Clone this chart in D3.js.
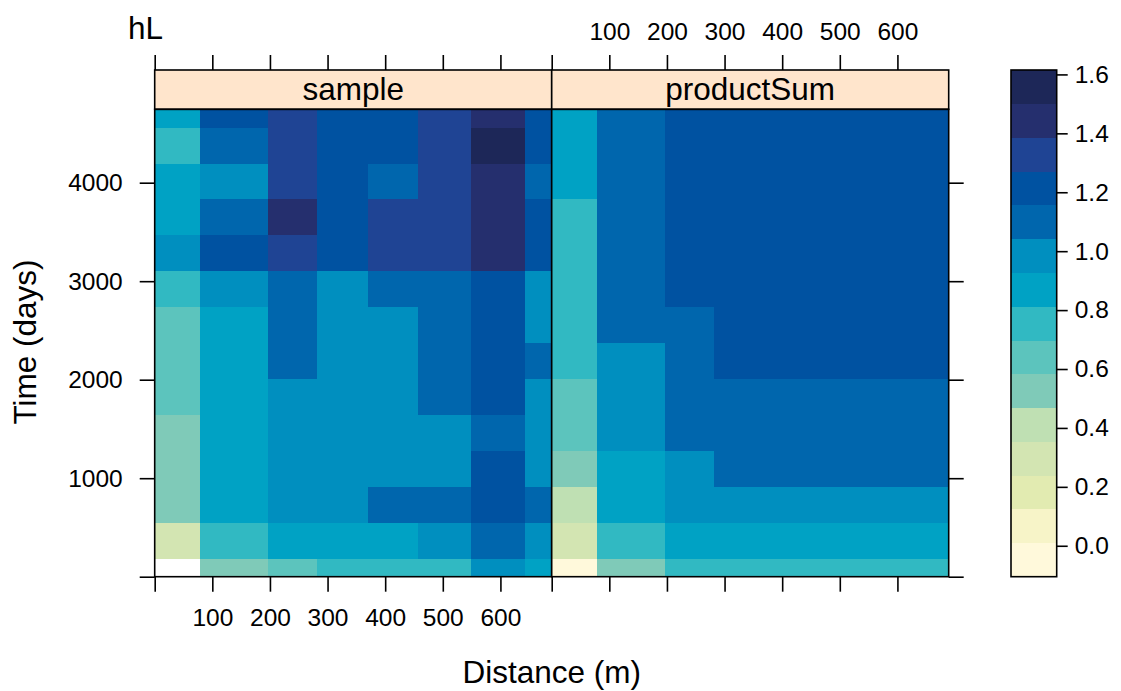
<!DOCTYPE html>
<html>
<head>
<meta charset="utf-8">
<script src="https://cdn.jsdelivr.net/npm/d3@7"></script>
<style>
  html, body { margin: 0; padding: 0; background: #ffffff; }
  svg { display: block; font-family: "Liberation Sans", Arial, sans-serif; }
</style>
</head>
<body>
<svg id="chart" width="1121" height="691"></svg>
<script>
// Distance (m) of each column centre and time (days) of each row centre
const distance = [0, 157, 236, 329, 411, 503, 595, 689];
const time = [0, 365, 730, 1095, 1460, 1825, 2190, 2555, 2920, 3285, 3650, 4015, 4380, 4745];

const panelNames = ["sample", "productSum"];

// hL per row (time, bottom to top) and column (distance); null = missing
const sampleValues = [
  [null, 0.52, 0.63, 0.75, 0.77, 0.74, 0.99, 0.88],
  [0.31, 0.77, 0.86, 0.88, 0.87, 0.96, 1.09, 0.97],
  [0.51, 0.86, 0.97, 0.99, 1.08, 1.11, 1.22, 1.10],
  [0.53, 0.88, 0.98, 0.96, 0.99, 1.00, 1.20, 0.97],
  [0.55, 0.89, 0.97, 0.98, 0.99, 0.98, 1.12, 0.99],
  [0.62, 0.87, 0.96, 0.98, 1.00, 1.09, 1.23, 0.97],
  [0.63, 0.88, 1.08, 0.99, 1.01, 1.10, 1.21, 1.07],
  [0.64, 0.90, 1.11, 0.98, 1.02, 1.12, 1.22, 0.99],
  [0.78, 1.00, 1.10, 0.99, 1.09, 1.11, 1.24, 1.01],
  [0.96, 1.23, 1.32, 1.21, 1.35, 1.33, 1.46, 1.22],
  [0.88, 1.12, 1.45, 1.22, 1.34, 1.36, 1.47, 1.24],
  [0.86, 0.99, 1.31, 1.20, 1.11, 1.33, 1.45, 1.13],
  [0.79, 1.10, 1.34, 1.22, 1.23, 1.32, 1.615, 1.21],
  [0.85, 1.19, 1.30, 1.21, 1.20, 1.35, 1.42, 1.19]
];

const productSumValues = [
  [-0.105, 0.55, 0.74, 0.76, 0.77, 0.77, 0.78, 0.78],
  [0.28, 0.73, 0.85, 0.88, 0.89, 0.90, 0.90, 0.91],
  [0.43, 0.84, 0.95, 0.99, 1.00, 1.01, 1.01, 1.02],
  [0.50, 0.90, 1.02, 1.07, 1.09, 1.10, 1.10, 1.11],
  [0.60, 0.94, 1.06, 1.10, 1.12, 1.13, 1.13, 1.14],
  [0.65, 0.97, 1.09, 1.13, 1.14, 1.14, 1.14, 1.14],
  [0.71, 1.01, 1.12, 1.17, 1.18, 1.19, 1.19, 1.20],
  [0.72, 1.06, 1.15, 1.19, 1.21, 1.22, 1.22, 1.23],
  [0.74, 1.08, 1.17, 1.21, 1.23, 1.24, 1.24, 1.25],
  [0.76, 1.10, 1.19, 1.23, 1.24, 1.25, 1.25, 1.26],
  [0.79, 1.12, 1.21, 1.24, 1.25, 1.26, 1.26, 1.26],
  [0.83, 1.13, 1.22, 1.25, 1.26, 1.26, 1.26, 1.26],
  [0.84, 1.13, 1.23, 1.25, 1.26, 1.26, 1.26, 1.26],
  [0.85, 1.14, 1.23, 1.25, 1.26, 1.26, 1.26, 1.26]
];

const xTicks = [0, 100, 200, 300, 400, 500, 600];
const yTicks = [0, 1000, 2000, 3000, 4000];
const keyTicks = [0.0, 0.2, 0.4, 0.6, 0.8, 1.0, 1.2, 1.4, 1.6];

// 15 colour levels, light to dark
const palette = ["#fff9db", "#f7f4c8", "#e2ebb1", "#d3e5b2", "#bfe0b3",
                 "#7fcab8", "#5cc4bd", "#31b9c2", "#00a2c4", "#008fbf",
                 "#0066ad", "#0052a1", "#1f4494", "#252f6e", "#1d2758"];

// ---- layout ----
const panelX = [154.7, 551.7];
const panelW = 397;
const plotTop = 109.3, plotBottom = 576.7, stripTop = 70;
const keyX = 1011, keyW = 45.7;
const FONT_TICK = 24.5, FONT_LAB = 31.5;

const svg = d3.select("#chart");

const x = d3.scaleLinear().domain([distance[0], distance[distance.length - 1]]).range([0, panelW]);
const y = d3.scaleLinear().domain([time[0], time[time.length - 1]]).range([plotBottom, plotTop]);

const allValues = sampleValues.concat(productSumValues).flat().filter(v => v != null);
const zExtent = d3.extent(allValues);
const color = d3.scaleQuantize().domain(zExtent).range(palette);
const zY = d3.scaleLinear().domain(zExtent).range([plotBottom, stripTop]);

// cell edges halfway between neighbouring centres, clipped to the data range
function edges(c) {
  const e = [c[0]];
  for (let i = 1; i < c.length; i++) e.push((c[i - 1] + c[i]) / 2);
  e.push(c[c.length - 1]);
  return e;
}
const xEdges = edges(distance);
const tEdges = edges(time);

const panelData = [sampleValues, productSumValues];

panelNames.forEach((name, p) => {
  const g = svg.append("g").attr("transform", `translate(${panelX[p]},0)`);
  const cells = [];
  panelData[p].forEach((row, i) => row.forEach((v, j) => {
    if (v != null) cells.push({ i, j, v });
  }));
  g.selectAll("rect.cell").data(cells).join("rect")
    .attr("class", "cell")
    .attr("x", d => x(xEdges[d.j]))
    .attr("width", d => x(xEdges[d.j + 1]) - x(xEdges[d.j]) + 0.3)
    .attr("y", d => y(tEdges[d.i + 1]))
    .attr("height", d => y(tEdges[d.i]) - y(tEdges[d.i + 1]) + 0.3)
    .attr("fill", d => color(d.v))
    .attr("shape-rendering", "crispEdges");

  // strip
  g.append("rect")
    .attr("x", 0).attr("y", stripTop)
    .attr("width", panelW).attr("height", plotTop - stripTop)
    .attr("fill", "#ffe5cc").attr("stroke", "#000").attr("stroke-width", 1.6);
  g.append("text")
    .attr("x", panelW / 2).attr("y", 99.5)
    .attr("text-anchor", "middle")
    .attr("font-size", FONT_LAB)
    .attr("fill", "#000")
    .text(name);

  // panel frame
  g.append("rect")
    .attr("x", 0).attr("y", plotTop)
    .attr("width", panelW).attr("height", plotBottom - plotTop)
    .attr("fill", "none").attr("stroke", "#000").attr("stroke-width", 1.6);

  // bottom axis: labels on the first panel only
  const bottom = d3.axisBottom(x).tickValues(xTicks).tickSize(15).tickPadding(17)
    .tickSizeOuter(0)
    .tickFormat(d => (p === 0 && d !== 0) ? String(d) : "");
  styleAxis(g.append("g").attr("transform", `translate(0,${plotBottom})`).call(bottom));

  // top axis above the strip: labels on the second panel only
  const top = d3.axisTop(x).tickValues(xTicks).tickSize(15).tickPadding(15.5)
    .tickSizeOuter(0)
    .tickFormat(d => (p === 1 && d !== 0) ? String(d) : "");
  styleAxis(g.append("g").attr("transform", `translate(0,${stripTop})`).call(top));
});

// left axis with labels, right axis with ticks only
const left = d3.axisLeft(y).tickValues(yTicks).tickSize(15).tickPadding(17)
  .tickSizeOuter(0).tickFormat(d => d === 0 ? "" : String(d));
styleAxis(svg.append("g").attr("transform", `translate(${panelX[0]},0)`).call(left));
const right = d3.axisRight(y).tickValues(yTicks).tickSize(15).tickSizeOuter(0).tickFormat("");
styleAxis(svg.append("g").attr("transform", `translate(${panelX[1] + panelW},0)`).call(right));

function styleAxis(sel) {
  sel.select(".domain").remove();
  sel.selectAll(".tick line").attr("stroke", "#000").attr("stroke-width", 1.6);
  sel.selectAll(".tick text").attr("fill", "#000")
    .attr("font-size", FONT_TICK)
    .attr("font-family", "Liberation Sans, Arial, sans-serif");
  return sel;
}

// colour key
const step = (zExtent[1] - zExtent[0]) / palette.length;
const bands = palette.map((c, k) => ({ lo: zExtent[0] + k * step, hi: zExtent[0] + (k + 1) * step, c }));
svg.append("g").selectAll("rect").data(bands).join("rect")
  .attr("x", keyX).attr("width", keyW)
  .attr("y", d => zY(d.hi))
  .attr("height", d => zY(d.lo) - zY(d.hi) + 0.3)
  .attr("fill", d => d.c)
  .attr("shape-rendering", "crispEdges");
svg.append("rect")
  .attr("x", keyX).attr("y", stripTop)
  .attr("width", keyW).attr("height", plotBottom - stripTop)
  .attr("fill", "none").attr("stroke", "#000").attr("stroke-width", 1.6);
const keyAxis = d3.axisRight(zY).tickValues(keyTicks).tickSize(11).tickPadding(7)
  .tickSizeOuter(0).tickFormat(d3.format(".1f"));
styleAxis(svg.append("g").attr("transform", `translate(${keyX + keyW},0)`).call(keyAxis));

// titles
svg.append("text")
  .attr("x", 128).attr("y", 39.3)
  .attr("font-size", FONT_LAB).attr("fill", "#000")
  .text("hL");
svg.append("text")
  .attr("x", panelX[1]).attr("y", 682.5)
  .attr("text-anchor", "middle")
  .attr("font-size", FONT_LAB).attr("fill", "#000")
  .text("Distance (m)");
svg.append("text")
  .attr("transform", `translate(36,342) rotate(-90)`)
  .attr("text-anchor", "middle")
  .attr("font-size", FONT_LAB).attr("fill", "#000")
  .text("Time (days)");
</script>
</body>
</html>
